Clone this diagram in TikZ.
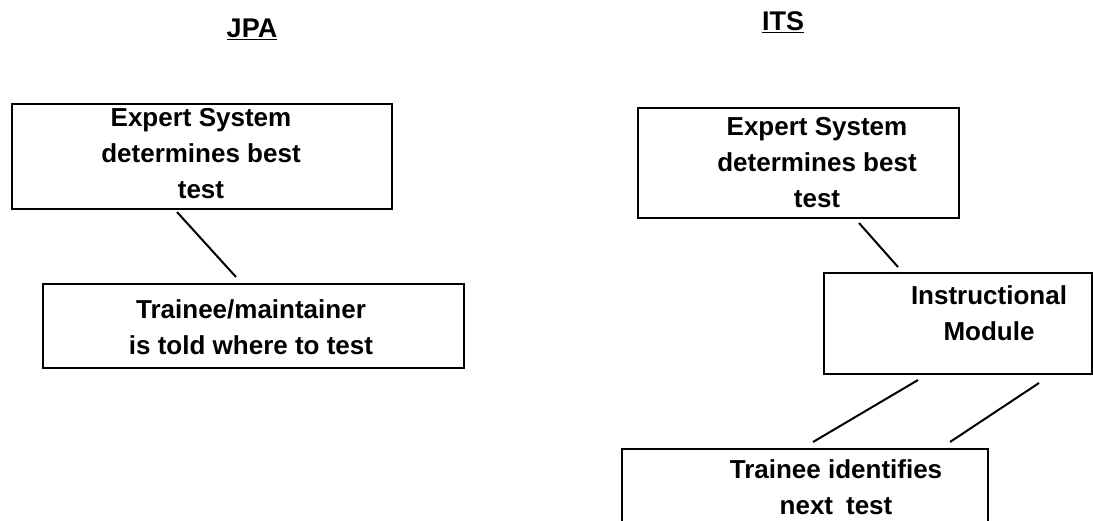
\documentclass[tikz,border=0pt]{standalone}
\usepackage{fontspec}
\setmainfont{Liberation Sans}
\begin{document}
\begin{tikzpicture}[x=1pt,y=1pt,
  box/.style={draw, line width=2pt, rectangle, anchor=north west, inner sep=0pt},
  txt/.style={align=center, inner sep=0pt, font=\fontsize{26}{36}\selectfont\bfseries},
  ttl/.style={inner sep=0pt, font=\fontsize{27}{30}\selectfont\bfseries},
  link/.style={line width=2pt}]
\useasboundingbox (0,0) rectangle (1093,-520);
\clip (0,0) rectangle (1093,-520);
% titles
\node[ttl] (jpa) at (252,-29) {\underline{JPA}};
\node[ttl] (its) at (783,-22) {\underline{ITS}};
% JPA column
\node[box, minimum width=380, minimum height=105] (lb1) at (11,-103) {};
\node[txt] (lt1) at (201,-154) {Expert System\\determines best\\test};
\node[box, minimum width=421, minimum height=84] (lb2) at (42,-283) {};
\node[txt] (lt2) at (251,-327) {Trainee/maintainer\\is told where to test};
\draw[link] ([shift={(166,-2)}]lb1.south west) -- ([shift={(194,6)}]lb2.north west);
% ITS column
\node[box, minimum width=321, minimum height=110] (rb1) at (637,-107) {};
\node[txt] (rt1) at (817,-163) {Expert System\\determines best\\test};
\node[box, minimum width=268, minimum height=101] (rb2) at (823,-272) {};
\node[txt] (rt2) at (989,-313) {Instructional\\Module};
\node[box, minimum width=366, minimum height=90] (rb3) at (621,-448) {};
\node[txt] (rt3) at (836,-487) {Trainee identifies\\next\enspace test};
\draw[link] ([shift={(222,-4)}]rb1.south west) -- ([shift={(75,5)}]rb2.north west);
\draw[link] ([shift={(95,-5)}]rb2.south west) -- ([shift={(192,6)}]rb3.north west);
\draw[link] ([shift={(216,-8)}]rb2.south west) -- ([shift={(329,6)}]rb3.north west);
\end{tikzpicture}
\end{document}
